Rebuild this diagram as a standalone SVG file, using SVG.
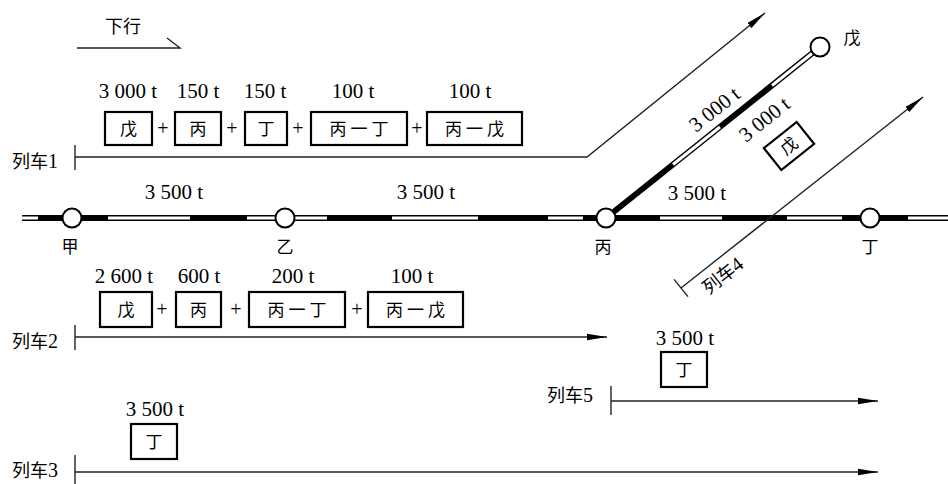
<svg xmlns="http://www.w3.org/2000/svg" width="948" height="484" viewBox="0 0 948 484">
<style>
.box{fill:#fff;stroke:#000;stroke-width:2.2}
.tr{fill:none;stroke:#222;stroke-width:1.4}
.blk{stroke:#000;stroke-width:6;fill:none}
.wht{stroke:#fff;stroke-width:3;fill:none}
.stn{fill:#fff;stroke:#000;stroke-width:2}
</style>
<defs>
<marker id="ah" viewBox="0 0 20 8" refX="20" refY="4" markerWidth="20" markerHeight="8" markerUnits="userSpaceOnUse" orient="auto">
<path d="M0,0.8 L20,4 L0,7.2 Z" fill="#000"/>
</marker>
</defs>

<g id="track">
<line class="blk" x1="22" y1="218" x2="948" y2="218"/>
<line class="wht" x1="22" y1="218" x2="38" y2="218"/>
<line class="wht" x1="108" y1="218" x2="190" y2="218"/>
<line class="wht" x1="247" y1="218" x2="327" y2="218"/>
<line class="wht" x1="392" y1="218" x2="478" y2="218"/>
<line class="wht" x1="548" y1="218" x2="583" y2="218"/>
<line class="wht" x1="660" y1="218" x2="722" y2="218"/>
<line class="wht" x1="787" y1="218" x2="842" y2="218"/>
<line class="wht" x1="908" y1="218" x2="948" y2="218"/>
<line class="blk" x1="606" y1="218" x2="820" y2="47"/>
<line class="wht" x1="673" y1="164.5" x2="720" y2="127"/>
<line class="wht" x1="772" y1="85.5" x2="820" y2="47"/>
<text x="174" y="199" text-anchor="middle" font-family="Liberation Serif" font-size="21">3 500 t</text>
<text x="426" y="199" text-anchor="middle" font-family="Liberation Serif" font-size="21">3 500 t</text>
<text x="697" y="200" text-anchor="middle" font-family="Liberation Serif" font-size="21">3 500 t</text>
<text transform="translate(715,110) rotate(-38.6)" x="0" y="6" text-anchor="middle" font-family="Liberation Serif" font-size="21">3 000 t</text>
</g>

<g id="direction">
<text x="105" y="33" font-family="Noto Sans CJK SC" font-size="18">下行</text>
<path class="tr" d="M77,48 H180 L167,38"/>
</g>

<g id="station-jia"><circle class="stn" cx="72" cy="218" r="9.5"/><text x="70" y="253" text-anchor="middle" font-family="Noto Sans CJK SC" font-size="17">甲</text></g>
<g id="station-yi"><circle class="stn" cx="285" cy="218" r="9.5"/><text x="285" y="253" text-anchor="middle" font-family="Noto Sans CJK SC" font-size="17">乙</text></g>
<g id="station-bing"><circle class="stn" cx="606" cy="218" r="9.5"/><text x="603" y="253" text-anchor="middle" font-family="Noto Sans CJK SC" font-size="17">丙</text></g>
<g id="station-ding"><circle class="stn" cx="870" cy="218" r="9.5"/><text x="870" y="253" text-anchor="middle" font-family="Noto Sans CJK SC" font-size="17">丁</text></g>
<g id="station-wu"><circle class="stn" cx="820" cy="47" r="9.5"/><text x="852" y="44" text-anchor="middle" font-family="Noto Sans CJK SC" font-size="17">戊</text></g>

<g id="connectors">
<path class="tr" d="M75,157 H587 L765,13" marker-end="url(#ah)"/>
<line class="tr" x1="75" y1="145" x2="75" y2="170"/>
<line class="tr" x1="75" y1="337" x2="607" y2="337" marker-end="url(#ah)"/>
<line class="tr" x1="75" y1="325" x2="75" y2="350"/>
<line class="tr" x1="75" y1="472" x2="878" y2="472" marker-end="url(#ah)"/>
<line class="tr" x1="75" y1="455" x2="75" y2="484"/>
<line class="tr" x1="681" y1="288" x2="923" y2="97" marker-end="url(#ah)"/>
<line class="tr" x1="674" y1="279.4" x2="688" y2="296.6"/>
<line class="tr" x1="611" y1="401" x2="878" y2="401" marker-end="url(#ah)"/>
<line class="tr" x1="611" y1="386" x2="611" y2="415"/>
</g>

<g id="train1">
<text x="12" y="168" font-family="Noto Sans CJK SC" font-size="18">列车<tspan font-family="Liberation Serif" font-size="20">1</tspan></text>
<text x="128" y="98" text-anchor="middle" font-family="Liberation Serif" font-size="21">3 000 t</text>
<text x="198" y="98" text-anchor="middle" font-family="Liberation Serif" font-size="21">150 t</text>
<text x="265" y="98" text-anchor="middle" font-family="Liberation Serif" font-size="21">150 t</text>
<text x="353" y="98" text-anchor="middle" font-family="Liberation Serif" font-size="21">100 t</text>
<text x="470" y="98" text-anchor="middle" font-family="Liberation Serif" font-size="21">100 t</text>
<text x="163" y="135" text-anchor="middle" font-family="Liberation Serif" font-size="20">+</text>
<text x="232" y="135" text-anchor="middle" font-family="Liberation Serif" font-size="20">+</text>
<text x="298" y="135" text-anchor="middle" font-family="Liberation Serif" font-size="20">+</text>
<text x="417" y="135" text-anchor="middle" font-family="Liberation Serif" font-size="20">+</text>
<rect class="box" x="105" y="112" width="47" height="33"/>
<rect class="box" x="175" y="112" width="46" height="33"/>
<rect class="box" x="245" y="112" width="42" height="33"/>
<rect class="box" x="311" y="112" width="96" height="33"/>
<rect class="box" x="427" y="112" width="95" height="33"/>
<text x="128.5" y="135" text-anchor="middle" font-family="Noto Sans CJK SC" font-size="17">戊</text>
<text x="198" y="135" text-anchor="middle" font-family="Noto Sans CJK SC" font-size="17">丙</text>
<text x="266" y="135" text-anchor="middle" font-family="Noto Sans CJK SC" font-size="17">丁</text>
<text x="361" y="135" text-anchor="middle" font-family="Noto Sans CJK SC" font-size="17" letter-spacing="4">丙一丁</text>
<text x="476.5" y="135" text-anchor="middle" font-family="Noto Sans CJK SC" font-size="17" letter-spacing="4">丙一戊</text>
</g>

<g id="train2">
<text x="12" y="348" font-family="Noto Sans CJK SC" font-size="18">列车<tspan font-family="Liberation Serif" font-size="20">2</tspan></text>
<text x="124" y="283" text-anchor="middle" font-family="Liberation Serif" font-size="21">2 600 t</text>
<text x="199" y="283" text-anchor="middle" font-family="Liberation Serif" font-size="21">600 t</text>
<text x="293" y="283" text-anchor="middle" font-family="Liberation Serif" font-size="21">200 t</text>
<text x="412" y="283" text-anchor="middle" font-family="Liberation Serif" font-size="21">100 t</text>
<text x="162" y="316" text-anchor="middle" font-family="Liberation Serif" font-size="20">+</text>
<text x="236" y="316" text-anchor="middle" font-family="Liberation Serif" font-size="20">+</text>
<text x="357" y="316" text-anchor="middle" font-family="Liberation Serif" font-size="20">+</text>
<rect class="box" x="100" y="292" width="52" height="35"/>
<rect class="box" x="176" y="292" width="45" height="35"/>
<rect class="box" x="249" y="292" width="96" height="35"/>
<rect class="box" x="368" y="292" width="95" height="35"/>
<text x="126" y="316" text-anchor="middle" font-family="Noto Sans CJK SC" font-size="17">戊</text>
<text x="198.5" y="316" text-anchor="middle" font-family="Noto Sans CJK SC" font-size="17">丙</text>
<text x="299" y="316" text-anchor="middle" font-family="Noto Sans CJK SC" font-size="17" letter-spacing="4">丙一丁</text>
<text x="417.5" y="316" text-anchor="middle" font-family="Noto Sans CJK SC" font-size="17" letter-spacing="4">丙一戊</text>
</g>

<g id="train3">
<text x="12" y="477" font-family="Noto Sans CJK SC" font-size="18">列车<tspan font-family="Liberation Serif" font-size="20">3</tspan></text>
<text x="155" y="416" text-anchor="middle" font-family="Liberation Serif" font-size="21">3 500 t</text>
<rect class="box" x="131" y="424" width="46" height="35"/>
<text x="154" y="448" text-anchor="middle" font-family="Noto Sans CJK SC" font-size="17">丁</text>
</g>

<g id="train4">
<text transform="translate(723,276) rotate(-38.3)" x="0" y="6" text-anchor="middle" font-family="Noto Sans CJK SC" font-size="18">列车<tspan font-family="Liberation Serif" font-size="20">4</tspan></text>
<text transform="translate(765,120) rotate(-38.6)" x="0" y="6" text-anchor="middle" font-family="Liberation Serif" font-size="21">3 000 t</text>
<g transform="translate(789,146) rotate(-38.6)">
<rect class="box" x="-21" y="-14" width="42" height="28"/>
<text x="0" y="6" text-anchor="middle" font-family="Noto Sans CJK SC" font-size="17">戊</text>
</g>
</g>

<g id="train5">
<text x="547" y="402" font-family="Noto Sans CJK SC" font-size="18">列车<tspan font-family="Liberation Serif" font-size="20">5</tspan></text>
<text x="685" y="345" text-anchor="middle" font-family="Liberation Serif" font-size="21">3 500 t</text>
<rect class="box" x="661" y="352" width="46" height="35"/>
<text x="684" y="376" text-anchor="middle" font-family="Noto Sans CJK SC" font-size="17">丁</text>
</g>
</svg>
